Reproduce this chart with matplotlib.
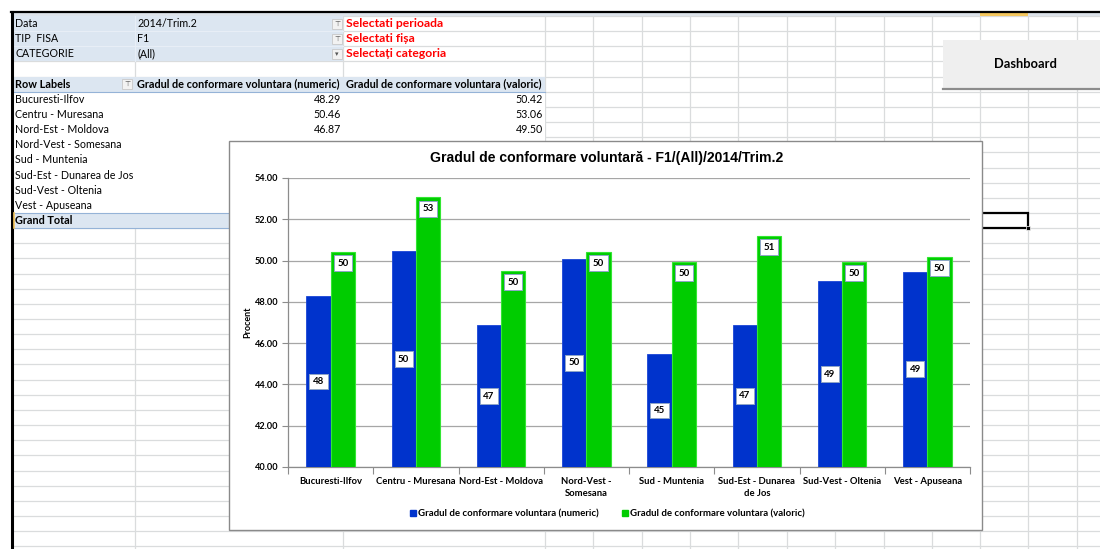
import matplotlib
matplotlib.use("Agg")
import matplotlib.pyplot as plt
from matplotlib.patches import Rectangle
from matplotlib.lines import Line2D

# pivot / chart data
regions = ["Bucuresti-Ilfov", "Centru - Muresana", "Nord-Est - Moldova", "Nord-Vest - Somesana",
           "Sud - Muntenia", "Sud-Est - Dunarea de Jos", "Sud-Vest - Oltenia", "Vest - Apuseana"]
region_ticks = ["Bucuresti-Ilfov", "Centru - Muresana", "Nord-Est - Moldova", "Nord-Vest -\nSomesana",
                "Sud - Muntenia", "Sud-Est - Dunarea\nde Jos", "Sud-Vest - Oltenia", "Vest - Apuseana"]
numeric = [48.29, 50.46, 46.87, 50.08, 45.47, 46.88, 49.01, 49.46]
valoric = [50.42, 53.06, 49.50, 50.42, 49.93, 51.19, 49.93, 50.19]

series_names = ["Gradul de conformare voluntara (numeric)", "Gradul de conformare voluntara (valoric)"]
filter_fields = ["Data", "TIP  FISA", "CATEGORIE"]
filter_values = ["2014/Trim.2", "F1", "(All)"]
filter_hints = ["Selectati perioada", "Selectati fișa", "Selectați categoria"]
chart_title = "Gradul de conformare voluntară - F1/(All)/2014/Trim.2"

# colours
BLUE = "#0033CC"
GREEN = "#00CC00"
PIVOT_FILL = "#DCE6F1"
PIVOT_LINE = "#95B3D7"
GRID = "#DADCDD"

SHEET_FONT = "Lato"
CHART_FONT = "Lato"
TITLE_FONT = "Liberation Sans"
FS = 7.7

W, H = 1100, 549
fig = plt.figure(figsize=(W / 100, H / 100), dpi=100)

# worksheet drawn in pixel coordinates
sheet = fig.add_axes([0, 0, 1, 1])
sheet.set_xlim(0, W)
sheet.set_ylim(H, 0)
sheet.axis("off")

ROW0, ROW_H = 16.0, 15.15
col_edges = [12, 135, 343, 545, 593, 642, 690, 738, 787, 835, 884, 932, 980, 1028, 1077, 1125]
n_rows = int((H - ROW0) / ROW_H) + 2
CHART_TOP = 141


def row_top(r):
    return ROW0 + r * ROW_H


def row_mid(r):
    return row_top(r) + ROW_H / 2


# gridlines
for r in range(n_rows):
    y = row_top(r)
    sheet.plot([12, W], [y, y], color=GRID, lw=0.9, zorder=1)
for x in col_edges:
    sheet.plot([x, x], [ROW0, H], color=GRID, lw=0.9, zorder=1)

# pivot body hides the grid
sheet.add_patch(Rectangle((12.5, row_top(4) + 0.6), 545 - 13, row_top(14) - row_top(4) - 0.6,
                          fc="white", ec="none", zorder=2))

# report filter block
sheet.add_patch(Rectangle((12.5, row_top(0)), 343 - 12.5, 3 * ROW_H, fc=PIVOT_FILL, ec="none", zorder=2))
for r in range(1, 3):
    sheet.plot([12.5, 343], [row_top(r)] * 2, color="#E8EEF6", lw=0.8, zorder=3)
sheet.plot([135, 135], [row_top(0), row_top(3)], color="#E8EEF6", lw=0.8, zorder=3)
for i in range(3):
    y = row_mid(i)
    sheet.text(15, y, filter_fields[i], fontsize=FS, family=SHEET_FONT, va="center", zorder=4)
    sheet.text(137, y, filter_values[i], fontsize=FS, family=SHEET_FONT, va="center", zorder=4)
    sheet.text(346, y, filter_hints[i], fontsize=8.7, family=SHEET_FONT, va="center",
               color="#FF0000", fontweight="bold", zorder=4)
    sheet.add_patch(Rectangle((332, y - 5), 10, 10, fc="#F2F2F2", ec="#C8C8C8", lw=0.6, zorder=4))
    sheet.text(337, y, "⊤" if i < 2 else "▾", fontsize=5, ha="center", va="center",
               color="#555555", zorder=5)

# header row
sheet.add_patch(Rectangle((12.5, row_top(4)), 545 - 12.5, ROW_H, fc=PIVOT_FILL, ec="none", zorder=3))
sheet.plot([12.5, 545], [row_top(5)] * 2, color=PIVOT_LINE, lw=0.8, zorder=4)
sheet.text(15, row_mid(4), "Row Labels", fontsize=7.8, family=SHEET_FONT, fontweight="bold",
           va="center", zorder=4)
sheet.add_patch(Rectangle((122, row_mid(4) - 5), 10, 10, fc="#F2F2F2", ec="#C8C8C8", lw=0.6, zorder=4))
sheet.text(127, row_mid(4), "⊤", fontsize=5, ha="center", va="center", color="#555555", zorder=5)
sheet.text(137, row_mid(4), series_names[0], fontsize=7.8, family=SHEET_FONT, fontweight="bold",
           va="center", zorder=4)
sheet.text(346, row_mid(4), series_names[1], fontsize=7.8, family=SHEET_FONT, fontweight="bold",
           va="center", zorder=4)

# pivot rows; value cells below the chart's top edge sit behind the chart
for i, name in enumerate(regions):
    y = row_mid(5 + i)
    sheet.text(15, y, name, fontsize=FS, family=SHEET_FONT, va="center", zorder=4)
    if row_top(5 + i) < CHART_TOP - ROW_H:
        sheet.text(341, y, f"{numeric[i]:.2f}", fontsize=FS, family=SHEET_FONT, va="center",
                   ha="right", zorder=4)
        sheet.text(543, y, f"{valoric[i]:.2f}", fontsize=FS, family=SHEET_FONT, va="center",
                   ha="right", zorder=4)

# grand total row
sheet.add_patch(Rectangle((12.5, row_top(13)), 545 - 12.5, ROW_H, fc=PIVOT_FILL, ec="none", zorder=3))
sheet.plot([12.5, 545], [row_top(13)] * 2, color=PIVOT_LINE, lw=0.8, zorder=4)
sheet.plot([12.5, 545], [row_top(14)] * 2, color=PIVOT_LINE, lw=0.8, zorder=4)
sheet.text(15, row_mid(13), "Grand Total", fontsize=7.8, family=SHEET_FONT, fontweight="bold",
           va="center", zorder=4)

# window frame, column header strip, selection marks
sheet.add_patch(Rectangle((12, 12.5), W - 12, 3.5, fc="#DDE3EA", ec="none", zorder=5))
sheet.add_patch(Rectangle((980, 12.5), 48, 3.5, fc="#F6C85F", ec="none", zorder=6))
sheet.plot([11, W], [12, 12], color="black", lw=1.6, zorder=7)
sheet.plot([12, 12], [12, H], color="black", lw=2.2, zorder=7)
sheet.plot([13.5, 13.5], [row_top(13), row_top(14)], color="#F6C85F", lw=1.2, zorder=7)

# active cell
sheet.add_patch(Rectangle((981, row_top(13)), 47, ROW_H, fc="none", ec="black", lw=1.6, zorder=6))
sheet.add_patch(Rectangle((1026, row_top(14) - 2), 4, 4, fc="black", ec="white", lw=0.5, zorder=7))

# dashboard button
sheet.add_patch(Rectangle((943, 40), 160, 49, fc="#EFEFEF", ec="none", zorder=6))
sheet.plot([943, W], [89, 89], color="#8C8C8C", lw=1.6, zorder=7)
sheet.text(1025, 64, "Dashboard", fontsize=9.3, family=SHEET_FONT, fontweight="bold",
           ha="center", va="center", zorder=7)

# chart object
sheet.add_patch(Rectangle((229, CHART_TOP), 982 - 229, 530 - CHART_TOP, fc="white", ec="#8A8A8A",
                          lw=1.0, zorder=10))

ax = fig.add_axes([288 / W, (H - 467) / H, (970 - 288) / W, (467 - 178) / H])
ax.set_facecolor("none")

bar_w = 0.285
xs = list(range(len(regions)))
ax.bar([x - bar_w / 2 for x in xs], numeric, width=bar_w, color=BLUE, edgecolor="#1A45D6",
       linewidth=0.6, zorder=3)
ax.bar([x + bar_w / 2 for x in xs], valoric, width=bar_w, color=GREEN, edgecolor="#33E633",
       linewidth=0.8, zorder=3)

ax.set_ylim(40, 54)
ax.set_xlim(-0.5, len(regions) - 0.5)
ax.set_yticks(range(40, 55, 2))
ax.set_yticklabels([f"{v:.2f}" for v in range(40, 55, 2)], fontsize=6.6, family=CHART_FONT,
                   fontweight="bold")
ax.yaxis.grid(True, color="#A6A6A6", lw=0.9, zorder=0)
ax.set_axisbelow(True)
ax.tick_params(axis="y", length=4, width=0.8, color="#8C8C8C", pad=3)

ax.set_xticks(xs)
ax.set_xticklabels(region_ticks, fontsize=6.8, family=CHART_FONT, fontweight="bold", linespacing=1.45)
ax.set_xticks([x + 0.5 for x in range(-1, len(regions))], minor=True)
ax.tick_params(axis="x", which="major", length=0, pad=7)
ax.tick_params(axis="x", which="minor", length=5, width=0.8, color="#8C8C8C")
for label in ax.get_xticklabels():
    label.set_verticalalignment("top")

for side in ("top", "right"):
    ax.spines[side].set_visible(False)
for side in ("left", "bottom"):
    ax.spines[side].set_color("#8C8C8C")
    ax.spines[side].set_linewidth(0.9)

ax.set_ylabel("Procent", fontsize=6.5, family=CHART_FONT, fontweight="bold", labelpad=2)

label_box = dict(boxstyle="square,pad=0.35", fc="white", ec="#8FA6C8", lw=0.7)
for x, v in zip(xs, numeric):
    ax.text(x - bar_w / 2, (40 + v) / 2, f"{v:.0f}", fontsize=7, family=CHART_FONT, fontweight="bold",
            ha="center", va="center", bbox=label_box, zorder=5)
for x, v in zip(xs, valoric):
    ax.text(x + bar_w / 2, v - 0.55, f"{v:.0f}", fontsize=7, family=CHART_FONT, fontweight="bold",
            ha="center", va="center", bbox=label_box, zorder=5)

fig.text(607 / W, 1 - 158 / H, chart_title, fontsize=10.1, family=TITLE_FONT, fontweight="bold",
         ha="center", va="center")

handles = [Line2D([], [], marker="s", ls="none", markersize=5, color=c) for c in (BLUE, GREEN)]
fig.legend(handles, series_names, loc="center", bbox_to_anchor=(607 / W, 1 - 514 / H), ncol=2,
           frameon=False, prop={"family": CHART_FONT, "size": 6.9, "weight": "bold"},
           handletextpad=0.1, columnspacing=2.4, handlelength=0.8)

fig.savefig("out.png", dpi=100)
